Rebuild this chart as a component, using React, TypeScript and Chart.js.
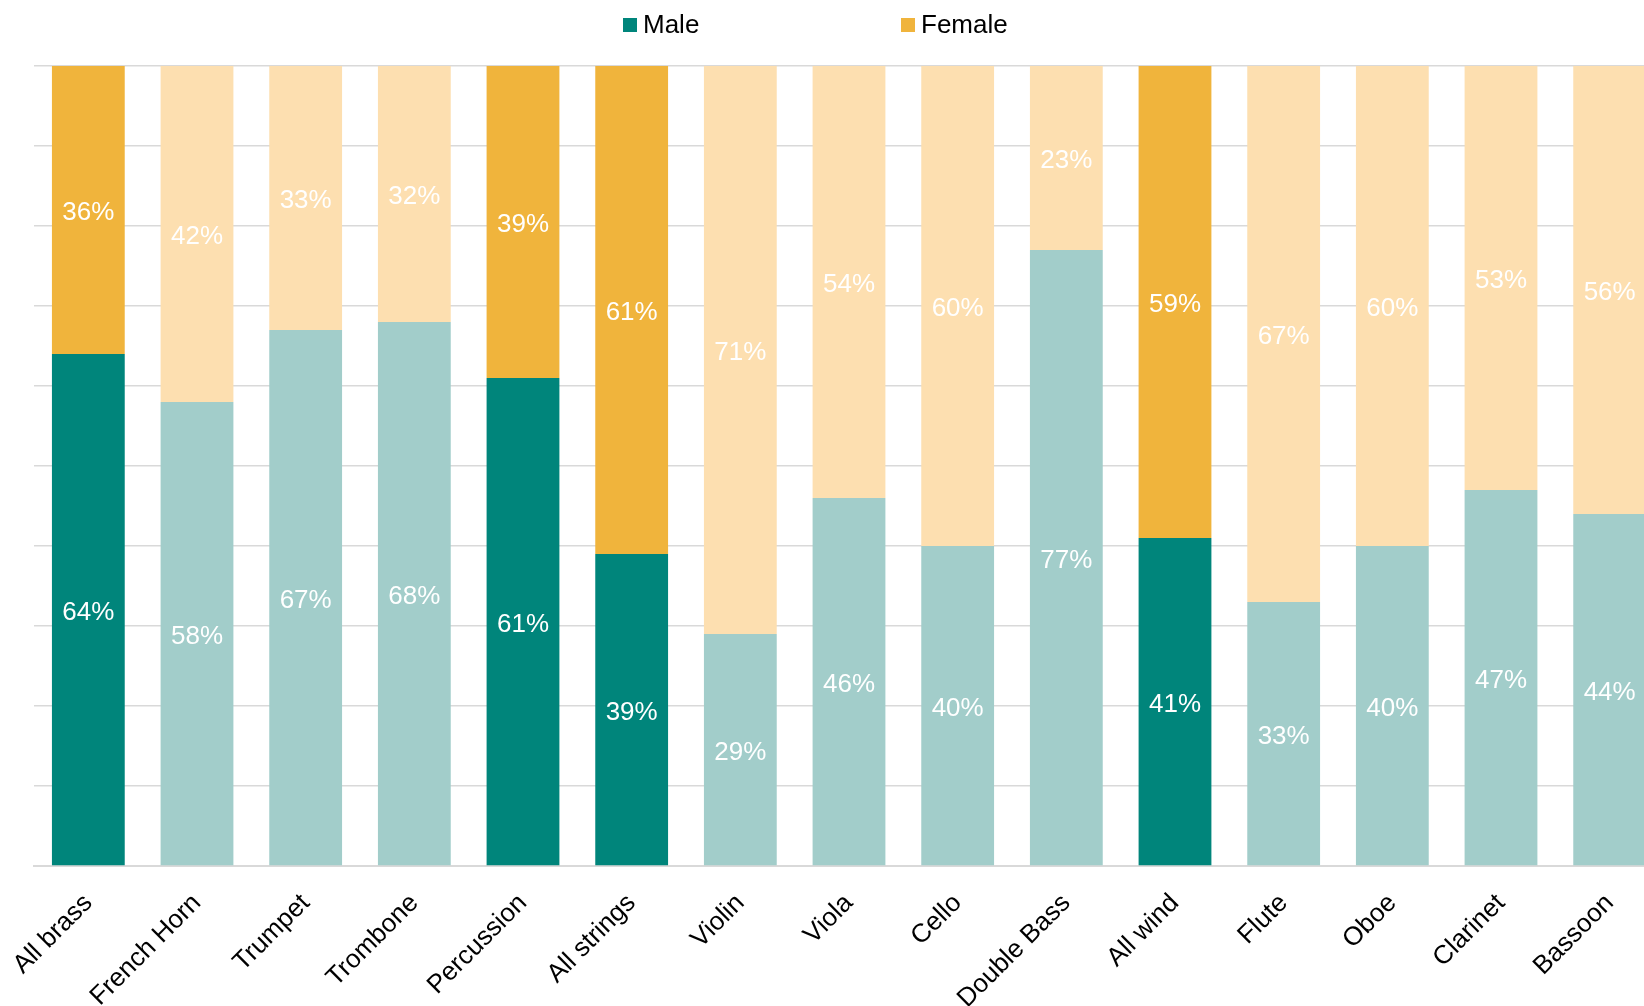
import React, { useEffect, useRef } from "react";
import { Chart, registerables } from "chart.js";

Chart.register(...registerables);

const categories = [
  "All brass",
  "French Horn",
  "Trumpet",
  "Trombone",
  "Percussion",
  "All strings",
  "Violin",
  "Viola",
  "Cello",
  "Double Bass",
  "All wind",
  "Flute",
  "Oboe",
  "Clarinet",
  "Bassoon",
];
const maleValues = [64, 58, 67, 68, 61, 39, 29, 46, 40, 77, 41, 33, 40, 47, 44];
const femaleValues = [36, 42, 33, 32, 39, 61, 71, 54, 60, 23, 59, 67, 60, 53, 56];
const isGroupTotal = [true, false, false, false, true, true, false, false, false, false, true, false, false, false, false];
const yMin = 0;
const yMax = 100;
const yStep = 10;

const FONT = "'Liberation Sans', Arial, Helvetica, sans-serif";
const MALE_DARK = "#00857B";
const MALE_LIGHT = "#A2CDCA";
const FEMALE_DARK = "#F0B43C";
const FEMALE_LIGHT = "#FDDFB0";
const GRID = "#D9D9D9";

const segmentLabels = {
  id: "segmentLabels",
  afterDatasetsDraw(chart: any) {
    const ctx = chart.ctx;
    ctx.save();
    ctx.font = `26px ${FONT}`;
    ctx.fillStyle = "#FFFFFF";
    ctx.textAlign = "center";
    ctx.textBaseline = "middle";
    chart.data.datasets.forEach((ds: any, di: number) => {
      const meta = chart.getDatasetMeta(di);
      meta.data.forEach((bar: any, i: number) => {
        const p = bar.getProps(["x", "y", "base"], true);
        ctx.fillText(`${ds.data[i]}%`, p.x, (p.y + p.base) / 2 + 3);
      });
    });
    ctx.restore();
  },
};

export default function App() {
  const canvasRef = useRef<HTMLCanvasElement | null>(null);

  useEffect(() => {
    if (!canvasRef.current) return;
    const chart = new Chart(canvasRef.current, {
      type: "bar",
      data: {
        labels: categories,
        datasets: [
          {
            label: "Male",
            data: maleValues,
            backgroundColor: isGroupTotal.map((g) => (g ? MALE_DARK : MALE_LIGHT)),
            barPercentage: 0.67,
            categoryPercentage: 1,
          },
          {
            label: "Female",
            data: femaleValues,
            backgroundColor: isGroupTotal.map((g) => (g ? FEMALE_DARK : FEMALE_LIGHT)),
            barPercentage: 0.67,
            categoryPercentage: 1,
          },
        ],
      },
      options: {
        responsive: false,
        animation: false,
        devicePixelRatio: 1,
        layout: { padding: { left: 34, right: 16, top: 66, bottom: 0 } },
        plugins: {
          legend: { display: false },
          tooltip: { enabled: false },
        },
        scales: {
          x: {
            stacked: true,
            grid: { display: false, drawTicks: true, tickLength: 19 },
            border: { display: true, color: GRID, width: 2 },
            ticks: {
              minRotation: 45,
              maxRotation: 45,
              autoSkip: false,
              padding: 3,
              color: "#000000",
              font: { family: FONT, size: 26 },
            },
            afterFit: (scale: any) => {
              scale.height = 140;
            },
          },
          y: {
            stacked: true,
            min: yMin,
            max: yMax,
            ticks: { display: false, stepSize: yStep },
            grid: { color: GRID, lineWidth: 1.5, drawTicks: false },
            border: { display: false },
          },
        },
      },
      plugins: [segmentLabels],
    });
    return () => chart.destroy();
  }, []);

  return (
    <div
      style={{
        position: "absolute",
        left: 0,
        top: 0,
        width: 1644,
        height: 1006,
        overflow: "hidden",
        background: "#FFFFFF",
        fontFamily: FONT,
      }}
    >
      <canvas
        ref={canvasRef}
        width={1680}
        height={1006}
        style={{ position: "absolute", left: 0, top: 0, width: 1680, height: 1006 }}
      />
      <div style={{ position: "absolute", left: 623, top: 18, width: 14, height: 14, background: MALE_DARK }} />
      <div style={{ position: "absolute", left: 643, top: 11, fontSize: 26, lineHeight: "26px", color: "#000" }}>Male</div>
      <div style={{ position: "absolute", left: 901, top: 18, width: 14, height: 14, background: FEMALE_DARK }} />
      <div style={{ position: "absolute", left: 921, top: 11, fontSize: 26, lineHeight: "26px", color: "#000" }}>Female</div>
    </div>
  );
}
